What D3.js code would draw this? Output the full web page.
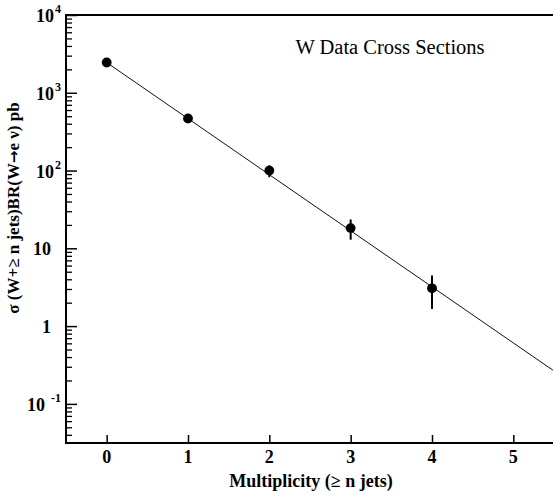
<!DOCTYPE html>
<html><head><meta charset="utf-8">
<script src="https://cdn.jsdelivr.net/npm/d3@7"></script>
<style>
html,body{margin:0;padding:0;background:#fff;}
svg text{font-family:"Liberation Serif","Times New Roman",serif;fill:#000;}
</style></head>
<body>
<svg id="chart" width="553" height="495"></svg>
<script>
// ---- data ----
const multiplicity = [0, 1, 2, 3, 4];
const crossSection = [2450, 467, 100, 18.2, 3.06];
const errLow = [2450, 467, 82, 12.9, 1.66];
const errHigh = [2450, 467, 117, 23.5, 4.46];
const fitX = [0, 5.5];
const fitY = [2450, 0.265];
const xTickValues = [0, 1, 2, 3, 4, 5];
const xTickLabels = ["0", "1", "2", "3", "4", "5"];
const yTickValues = [1e4, 1e3, 1e2, 10, 1, 0.1];
const yTickBase = ["10", "10", "10", "10", "1", "10"];
const yTickExp = ["4", "3", "2", "", "", "-1"];
const titleText = "W Data Cross Sections";
const xTitle = "Multiplicity (\u2265 n jets)";
const yTitleParts = ["\u03c3 (W+\u2265 n jets)BR(W", "\u2192", "e \u03bd) pb"];

// ---- layout ----
const svg = d3.select("#chart");
const mLeft = 66, mRight = 554, mTop = 15, mBottom = 443;
const x = d3.scaleLinear().domain([-0.5, 5.5]).range([mLeft, mRight]);
const y = d3.scaleLog().domain([0.0314, 1e4]).range([mBottom, mTop]);

// minor y ticks
const minorVals = y.ticks(40).filter(v => {
  const l = Math.log10(v); return Math.abs(l - Math.round(l)) > 1e-6;
});
svg.append("g").attr("transform", `translate(${mLeft},0)`)
  .call(d3.axisRight(y).tickValues(minorVals).tickSize(6).tickFormat(""))
  .call(g => { g.select(".domain").remove(); g.selectAll("line").attr("stroke","#000").attr("stroke-width",1.3); });
// major y ticks
svg.append("g").attr("transform", `translate(${mLeft},0)`)
  .call(d3.axisRight(y).tickValues(yTickValues).tickSize(11).tickFormat(""))
  .call(g => { g.select(".domain").remove(); g.selectAll("line").attr("stroke","#000").attr("stroke-width",1.5); });
// x ticks
svg.append("g").attr("transform", `translate(0,${mBottom})`)
  .call(d3.axisTop(x).tickValues(xTickValues).tickSize(8).tickFormat(""))
  .call(g => { g.select(".domain").remove(); g.selectAll("line").attr("stroke","#000").attr("stroke-width",1.5); });

// frame lines
svg.append("line").attr("x1", mLeft).attr("x2", mLeft).attr("y1", mTop - 1).attr("y2", mBottom + 1)
  .attr("stroke", "#000").attr("stroke-width", 2);
svg.append("line").attr("x1", mLeft - 1).attr("x2", 553).attr("y1", mBottom).attr("y2", mBottom)
  .attr("stroke", "#000").attr("stroke-width", 2);
svg.append("line").attr("x1", mLeft - 1).attr("x2", 553).attr("y1", mTop).attr("y2", mTop)
  .attr("stroke", "#000").attr("stroke-width", 2);

// y tick labels
yTickValues.forEach((v, i) => {
  const exp = yTickExp[i];
  const t = svg.append("text")
    .attr("x", exp ? 61 : 51)
    .attr("y", y(v) + 7)
    .attr("text-anchor", "end")
    .attr("font-size", 18).attr("font-weight", "bold");
  t.append("tspan").text(yTickBase[i]);
  if (exp) {
    t.append("tspan").attr("dx", exp.startsWith("-") ? 6 : 1).attr("dy", -9)
      .attr("font-size", 12).text(exp);
  }
});
// x tick labels
svg.append("g").selectAll("text").data(xTickValues).join("text")
  .attr("x", d => x(d)).attr("y", 463)
  .attr("text-anchor", "middle").attr("font-size", 18).attr("font-weight", "bold")
  .text((d, i) => xTickLabels[i]);

// titles
svg.append("text").attr("x", 311).attr("y", 487).attr("text-anchor", "middle")
  .attr("font-size", 18).attr("font-weight", "bold").text(xTitle);
const yt = svg.append("text").attr("transform", "translate(19,208) rotate(-90)")
  .attr("text-anchor", "middle").attr("font-size", 17).attr("font-weight", "bold");
yt.append("tspan").text(yTitleParts[0]);
yt.append("tspan").attr("font-family", "DejaVu Sans").attr("font-size", 15).text(yTitleParts[1]);
yt.append("tspan").text(yTitleParts[2]);
svg.append("text").attr("x", 390).attr("y", 54).attr("text-anchor", "middle")
  .attr("font-size", 20.5).text(titleText);

// fit line
svg.append("clipPath").attr("id", "plotclip").append("rect")
  .attr("x", mLeft).attr("y", mTop).attr("width", 553 - mLeft).attr("height", mBottom - mTop);
svg.append("path").attr("clip-path", "url(#plotclip)")
  .datum(fitX.map((d, i) => [d, fitY[i]]))
  .attr("d", d3.line().x(d => x(d[0])).y(d => y(d[1])))
  .attr("fill", "none").attr("stroke", "#111").attr("stroke-width", 1);

// error bars
svg.append("g").selectAll("line").data(multiplicity).join("line")
  .attr("x1", d => x(d)).attr("x2", d => x(d))
  .attr("y1", (d, i) => y(errHigh[i])).attr("y2", (d, i) => y(errLow[i]))
  .attr("stroke", "#000").attr("stroke-width", 2);
// points
svg.append("g").selectAll("circle").data(multiplicity).join("circle")
  .attr("cx", d => x(d)).attr("cy", (d, i) => y(crossSection[i]))
  .attr("r", 4.9).attr("fill", "#000");
</script>
</body></html>
